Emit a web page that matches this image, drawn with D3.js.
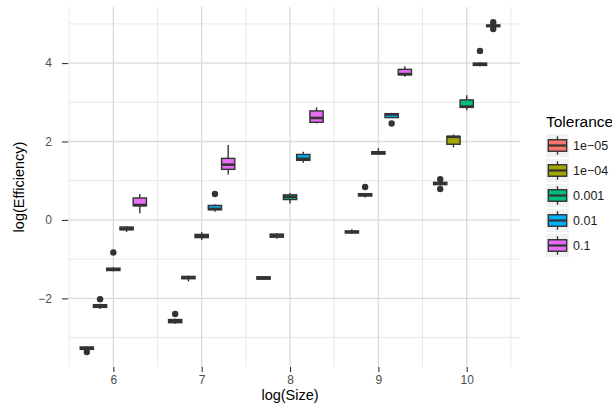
<!DOCTYPE html>
<html>
<head>
<meta charset="utf-8">
<script src="https://cdn.jsdelivr.net/npm/d3@7"></script>
<style>
  body { margin: 0; background: #fff; }
  svg text { font-family: "Liberation Sans", Arial, Helvetica, sans-serif; }
</style>
</head>
<body>
<div id="chart"></div>
<script>
// log(Size) positions and tolerance groups
const sizes = [6, 7, 8, 9, 10];
const tolerances = ['1e\u221205', '1e\u221204', '0.001', '0.01', '0.1'];
const colors = ['#F8766D', '#A3A500', '#00BF7D', '#00B0F6', '#E76BF3'];

// box stats per size: [lower whisker, q1, median, q3, upper whisker]
const stats1e05 = [
  [-3.32, -3.30, -3.27, -3.24, -3.22],
  [-2.65, -2.62, -2.58, -2.54, -2.52],
  [-1.53, -1.51, -1.48, -1.45, -1.43],
  [-0.36, -0.33, -0.31, -0.28, -0.24],
  [0.88, 0.90, 0.93, 0.96, 0.99]
];
const stats1e04 = [
  [-2.27, -2.23, -2.20, -2.16, -2.14],
  [-1.57, -1.50, -1.47, -1.44, -1.42],
  [-0.48, -0.44, -0.40, -0.36, -0.34],
  [0.57, 0.61, 0.64, 0.67, 0.69],
  [1.85, 1.93, 2.12, 2.13, 2.18]
];
const stats0001 = [
  [-1.31, -1.29, -1.26, -1.23, -1.21],
  [-0.51, -0.45, -0.41, -0.37, -0.31],
  [0.42, 0.52, 0.59, 0.64, 0.69],
  [1.66, 1.68, 1.71, 1.74, 1.83],
  [2.80, 2.87, 2.89, 3.06, 3.18]
];
const stats001 = [
  [-0.31, -0.25, -0.23, -0.18, -0.16],
  [0.21, 0.26, 0.28, 0.37, 0.40],
  [1.46, 1.52, 1.56, 1.67, 1.74],
  [2.60, 2.61, 2.69, 2.71, 2.73],
  [3.92, 3.94, 3.97, 4.00, 4.02]
];
const stats01 = [
  [0.17, 0.36, 0.38, 0.56, 0.66],
  [1.16, 1.29, 1.41, 1.57, 1.91],
  [2.46, 2.49, 2.60, 2.78, 2.87],
  [3.65, 3.70, 3.72, 3.84, 3.92],
  [4.92, 4.93, 4.95, 4.97, 4.98]
];
const allStats = [stats1e05, stats1e04, stats0001, stats001, stats01];

// outliers: [tolerance index, size, value]
const outliers = [
  [0, 6, -3.37], [0, 7, -2.40], [0, 10, 1.04], [0, 10, 0.79],
  [1, 6, -2.02], [1, 9, 0.84],
  [2, 6, -0.83],
  [3, 7, 0.66], [3, 9, 2.46], [3, 10, 4.31],
  [4, 10, 5.04], [4, 10, 4.87]
];

const yTicks = [-2, 0, 2, 4];
const yMinor = [-3, -1, 1, 3, 5];
const xMinor = [5.5, 6.5, 7.5, 8.5, 9.5, 10.5];

const width = 612, height = 411;
const panel = { left: 68, right: 520, top: 7, bottom: 367 };
const dodge = 0.15;
const font = '"Liberation Sans", Arial, Helvetica, sans-serif';

const svg = d3.select('#chart').append('svg')
  .attr('width', width)
  .attr('height', height);

const x = d3.scaleLinear().domain([5.487, 10.603]).range([panel.left, panel.right]);
const y = d3.scaleLinear().domain([-3.75, 5.43]).range([panel.bottom, panel.top]);

// grid
const grid = svg.append('g');
grid.selectAll('.ymin').data(yMinor).join('line')
  .attr('x1', panel.left).attr('x2', panel.right)
  .attr('y1', d => y(d)).attr('y2', d => y(d))
  .attr('stroke', '#e3e3e3').attr('stroke-width', 0.8);
grid.selectAll('.xmin').data(xMinor).join('line')
  .attr('y1', panel.top).attr('y2', panel.bottom)
  .attr('x1', d => x(d)).attr('x2', d => x(d))
  .attr('stroke', '#e3e3e3').attr('stroke-width', 0.8);
grid.selectAll('.ymaj').data(yTicks).join('line')
  .attr('x1', panel.left).attr('x2', panel.right)
  .attr('y1', d => y(d)).attr('y2', d => y(d))
  .attr('stroke', '#dadada').attr('stroke-width', 1.3);
grid.selectAll('.xmaj').data(sizes).join('line')
  .attr('y1', panel.top).attr('y2', panel.bottom)
  .attr('x1', d => x(d)).attr('x2', d => x(d))
  .attr('stroke', '#dadada').attr('stroke-width', 1.3);

// boxes
const boxW = x(dodge) - x(0);
const boxes = [];
allStats.forEach((arr, ti) => {
  arr.forEach((s, si) => {
    boxes.push({ ti, cx: x(sizes[si] + (ti - 2) * dodge), s });
  });
});

const bx = svg.append('g').selectAll('g').data(boxes).join('g');
bx.append('line')
  .attr('x1', d => d.cx).attr('x2', d => d.cx)
  .attr('y1', d => y(d.s[0])).attr('y2', d => y(d.s[1]))
  .attr('stroke', '#333').attr('stroke-width', 1.4);
bx.append('line')
  .attr('x1', d => d.cx).attr('x2', d => d.cx)
  .attr('y1', d => y(d.s[3])).attr('y2', d => y(d.s[4]))
  .attr('stroke', '#333').attr('stroke-width', 1.4);
bx.append('rect')
  .attr('x', d => d.cx - boxW / 2)
  .attr('width', boxW)
  .attr('y', d => y(d.s[3]))
  .attr('height', d => y(d.s[1]) - y(d.s[3]))
  .attr('fill', d => colors[d.ti])
  .attr('stroke', '#333').attr('stroke-width', 1.4);
bx.append('line')
  .attr('x1', d => d.cx - boxW / 2).attr('x2', d => d.cx + boxW / 2)
  .attr('y1', d => y(d.s[2])).attr('y2', d => y(d.s[2]))
  .attr('stroke', '#333').attr('stroke-width', 2.6);

svg.append('g').selectAll('circle').data(outliers).join('circle')
  .attr('cx', d => x(d[1] + (d[0] - 2) * dodge))
  .attr('cy', d => y(d[2]))
  .attr('r', 3.2)
  .attr('fill', '#333');

// axes
const xAxis = svg.append('g')
  .attr('transform', `translate(0,${panel.bottom})`)
  .call(d3.axisBottom(x).tickValues(sizes).tickSize(5).tickPadding(3)
    .tickFormat(d3.format('d')));
const yAxis = svg.append('g')
  .attr('transform', `translate(${panel.left},0)`)
  .call(d3.axisLeft(y).tickValues(yTicks).tickSize(6).tickPadding(10)
    .tickFormat(d => d < 0 ? '\u2212' + Math.abs(d) : d));
[xAxis, yAxis].forEach(a => {
  a.attr('font-family', font);
  a.select('.domain').remove();
  a.selectAll('.tick line').attr('stroke', '#333').attr('stroke-width', 1.1);
  a.selectAll('text').attr('fill', '#4d4d4d').style('font-size', '12px');
});

svg.append('text')
  .attr('x', x(8)).attr('y', 400)
  .attr('text-anchor', 'middle')
  .style('font-size', '14.5px')
  .text('log(Size)');
svg.append('text')
  .attr('transform', `translate(24,${(panel.top + panel.bottom) / 2}) rotate(-90)`)
  .attr('text-anchor', 'middle')
  .style('font-size', '14.5px')
  .text('log(Efficiency)');

// legend
const keySize = 23, keyStep = 25;
const legend = svg.append('g').attr('transform', 'translate(546,134)');
legend.append('text')
  .attr('x', 0).attr('y', -7)
  .style('font-size', '15.5px')
  .text('Tolerance');
const keys = legend.selectAll('g').data(tolerances).join('g')
  .attr('transform', (d, i) => `translate(0,${i * keyStep})`);
keys.append('rect')
  .attr('width', keySize).attr('height', keySize)
  .attr('fill', '#f2f2f2');
keys.append('line')
  .attr('x1', keySize / 2).attr('x2', keySize / 2)
  .attr('y1', keySize * 0.1).attr('y2', keySize * 0.9)
  .attr('stroke', '#333').attr('stroke-width', 1.4);
keys.append('rect')
  .attr('x', keySize * 0.1).attr('width', keySize * 0.8)
  .attr('y', keySize * 0.25).attr('height', keySize * 0.5)
  .attr('fill', (d, i) => colors[i])
  .attr('stroke', '#333').attr('stroke-width', 1.4);
keys.append('line')
  .attr('x1', keySize * 0.1).attr('x2', keySize * 0.9)
  .attr('y1', keySize / 2).attr('y2', keySize / 2)
  .attr('stroke', '#333').attr('stroke-width', 2.2);
keys.append('text')
  .attr('x', keySize + 4).attr('y', keySize / 2)
  .attr('dy', '0.35em')
  .style('font-size', '12.5px')
  .attr('fill', '#1a1a1a')
  .text(d => d);
</script>
</body>
</html>
